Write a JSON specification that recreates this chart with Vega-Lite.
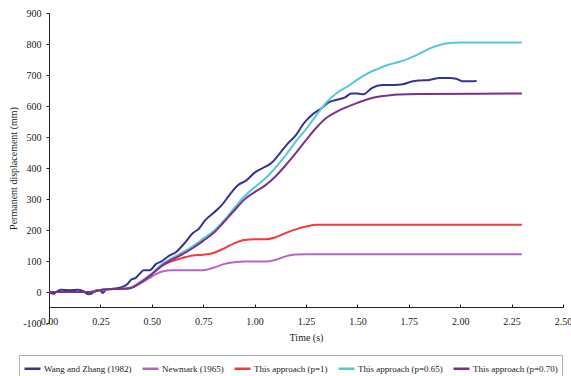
{
  "$schema": "https://vega.github.io/schema/vega-lite/v6.json",
  "width": 514,
  "height": 310,
  "autosize": {"type": "none"},
  "padding": {"left": 49, "top": 13, "right": 8, "bottom": 53},
  "background": "white",
  "config": {
    "view": {"stroke": null},
    "font": "Liberation Serif",
    "axis": {"labelFont": "Liberation Serif", "titleFont": "Liberation Serif", "labelColor": "#222", "titleColor": "#222", "titleFontWeight": "normal", "domainColor": "#222", "tickColor": "#222", "grid": false},
    "legend": {"labelFont": "Liberation Serif"}
  },
  "data": {"values": [
    {"s": "Wang and Zhang (1982)", "t": 0.00, "v": 0},
    {"s": "Wang and Zhang (1982)", "t": 0.02, "v": -6},
    {"s": "Wang and Zhang (1982)", "t": 0.04, "v": 2},
    {"s": "Wang and Zhang (1982)", "t": 0.06, "v": 7},
    {"s": "Wang and Zhang (1982)", "t": 0.10, "v": 6},
    {"s": "Wang and Zhang (1982)", "t": 0.14, "v": 7},
    {"s": "Wang and Zhang (1982)", "t": 0.17, "v": 2},
    {"s": "Wang and Zhang (1982)", "t": 0.19, "v": -7},
    {"s": "Wang and Zhang (1982)", "t": 0.21, "v": -4},
    {"s": "Wang and Zhang (1982)", "t": 0.23, "v": 6},
    {"s": "Wang and Zhang (1982)", "t": 0.25, "v": 6},
    {"s": "Wang and Zhang (1982)", "t": 0.26, "v": -3},
    {"s": "Wang and Zhang (1982)", "t": 0.28, "v": 9},
    {"s": "Wang and Zhang (1982)", "t": 0.32, "v": 11},
    {"s": "Wang and Zhang (1982)", "t": 0.35, "v": 15},
    {"s": "Wang and Zhang (1982)", "t": 0.38, "v": 25},
    {"s": "Wang and Zhang (1982)", "t": 0.40, "v": 40},
    {"s": "Wang and Zhang (1982)", "t": 0.42, "v": 45},
    {"s": "Wang and Zhang (1982)", "t": 0.44, "v": 58},
    {"s": "Wang and Zhang (1982)", "t": 0.46, "v": 70},
    {"s": "Wang and Zhang (1982)", "t": 0.49, "v": 70},
    {"s": "Wang and Zhang (1982)", "t": 0.52, "v": 90},
    {"s": "Wang and Zhang (1982)", "t": 0.55, "v": 100},
    {"s": "Wang and Zhang (1982)", "t": 0.58, "v": 115},
    {"s": "Wang and Zhang (1982)", "t": 0.62, "v": 130},
    {"s": "Wang and Zhang (1982)", "t": 0.66, "v": 158},
    {"s": "Wang and Zhang (1982)", "t": 0.70, "v": 190},
    {"s": "Wang and Zhang (1982)", "t": 0.73, "v": 205},
    {"s": "Wang and Zhang (1982)", "t": 0.76, "v": 232},
    {"s": "Wang and Zhang (1982)", "t": 0.80, "v": 255},
    {"s": "Wang and Zhang (1982)", "t": 0.84, "v": 280},
    {"s": "Wang and Zhang (1982)", "t": 0.88, "v": 315},
    {"s": "Wang and Zhang (1982)", "t": 0.92, "v": 345},
    {"s": "Wang and Zhang (1982)", "t": 0.96, "v": 360},
    {"s": "Wang and Zhang (1982)", "t": 1.00, "v": 385},
    {"s": "Wang and Zhang (1982)", "t": 1.04, "v": 400},
    {"s": "Wang and Zhang (1982)", "t": 1.08, "v": 415},
    {"s": "Wang and Zhang (1982)", "t": 1.12, "v": 445},
    {"s": "Wang and Zhang (1982)", "t": 1.16, "v": 478},
    {"s": "Wang and Zhang (1982)", "t": 1.20, "v": 505},
    {"s": "Wang and Zhang (1982)", "t": 1.24, "v": 545},
    {"s": "Wang and Zhang (1982)", "t": 1.28, "v": 572},
    {"s": "Wang and Zhang (1982)", "t": 1.32, "v": 590},
    {"s": "Wang and Zhang (1982)", "t": 1.36, "v": 612},
    {"s": "Wang and Zhang (1982)", "t": 1.40, "v": 620},
    {"s": "Wang and Zhang (1982)", "t": 1.44, "v": 628},
    {"s": "Wang and Zhang (1982)", "t": 1.47, "v": 640},
    {"s": "Wang and Zhang (1982)", "t": 1.50, "v": 640},
    {"s": "Wang and Zhang (1982)", "t": 1.53, "v": 638},
    {"s": "Wang and Zhang (1982)", "t": 1.57, "v": 658},
    {"s": "Wang and Zhang (1982)", "t": 1.62, "v": 668},
    {"s": "Wang and Zhang (1982)", "t": 1.68, "v": 668},
    {"s": "Wang and Zhang (1982)", "t": 1.72, "v": 670},
    {"s": "Wang and Zhang (1982)", "t": 1.76, "v": 678},
    {"s": "Wang and Zhang (1982)", "t": 1.80, "v": 682},
    {"s": "Wang and Zhang (1982)", "t": 1.85, "v": 684},
    {"s": "Wang and Zhang (1982)", "t": 1.90, "v": 690},
    {"s": "Wang and Zhang (1982)", "t": 1.95, "v": 690},
    {"s": "Wang and Zhang (1982)", "t": 1.98, "v": 688},
    {"s": "Wang and Zhang (1982)", "t": 2.01, "v": 680},
    {"s": "Wang and Zhang (1982)", "t": 2.05, "v": 680},
    {"s": "Wang and Zhang (1982)", "t": 2.08, "v": 681},

    {"s": "Newmark (1965)", "t": 0.00, "v": 0},
    {"s": "Newmark (1965)", "t": 0.20, "v": 0},
    {"s": "Newmark (1965)", "t": 0.25, "v": 6},
    {"s": "Newmark (1965)", "t": 0.28, "v": 9},
    {"s": "Newmark (1965)", "t": 0.35, "v": 10},
    {"s": "Newmark (1965)", "t": 0.38, "v": 11},
    {"s": "Newmark (1965)", "t": 0.40, "v": 15},
    {"s": "Newmark (1965)", "t": 0.45, "v": 30},
    {"s": "Newmark (1965)", "t": 0.50, "v": 50},
    {"s": "Newmark (1965)", "t": 0.55, "v": 66},
    {"s": "Newmark (1965)", "t": 0.60, "v": 70},
    {"s": "Newmark (1965)", "t": 0.75, "v": 70},
    {"s": "Newmark (1965)", "t": 0.80, "v": 78},
    {"s": "Newmark (1965)", "t": 0.85, "v": 90},
    {"s": "Newmark (1965)", "t": 0.90, "v": 96},
    {"s": "Newmark (1965)", "t": 0.95, "v": 98},
    {"s": "Newmark (1965)", "t": 1.05, "v": 98},
    {"s": "Newmark (1965)", "t": 1.10, "v": 103},
    {"s": "Newmark (1965)", "t": 1.15, "v": 115},
    {"s": "Newmark (1965)", "t": 1.20, "v": 121},
    {"s": "Newmark (1965)", "t": 1.25, "v": 122},
    {"s": "Newmark (1965)", "t": 2.30, "v": 122},

    {"s": "This approach (p=1)", "t": 0.00, "v": 0},
    {"s": "This approach (p=1)", "t": 0.20, "v": 0},
    {"s": "This approach (p=1)", "t": 0.25, "v": 6},
    {"s": "This approach (p=1)", "t": 0.28, "v": 9},
    {"s": "This approach (p=1)", "t": 0.35, "v": 10},
    {"s": "This approach (p=1)", "t": 0.38, "v": 11},
    {"s": "This approach (p=1)", "t": 0.40, "v": 15},
    {"s": "This approach (p=1)", "t": 0.45, "v": 35},
    {"s": "This approach (p=1)", "t": 0.50, "v": 58},
    {"s": "This approach (p=1)", "t": 0.55, "v": 85},
    {"s": "This approach (p=1)", "t": 0.60, "v": 100},
    {"s": "This approach (p=1)", "t": 0.65, "v": 110},
    {"s": "This approach (p=1)", "t": 0.70, "v": 118},
    {"s": "This approach (p=1)", "t": 0.75, "v": 120},
    {"s": "This approach (p=1)", "t": 0.80, "v": 126},
    {"s": "This approach (p=1)", "t": 0.85, "v": 140},
    {"s": "This approach (p=1)", "t": 0.90, "v": 157},
    {"s": "This approach (p=1)", "t": 0.95, "v": 168},
    {"s": "This approach (p=1)", "t": 1.00, "v": 170},
    {"s": "This approach (p=1)", "t": 1.05, "v": 170},
    {"s": "This approach (p=1)", "t": 1.10, "v": 176},
    {"s": "This approach (p=1)", "t": 1.15, "v": 190},
    {"s": "This approach (p=1)", "t": 1.20, "v": 202},
    {"s": "This approach (p=1)", "t": 1.25, "v": 211},
    {"s": "This approach (p=1)", "t": 1.30, "v": 217},
    {"s": "This approach (p=1)", "t": 2.30, "v": 217},

    {"s": "This approach (p=0.65)", "t": 0.00, "v": 0},
    {"s": "This approach (p=0.65)", "t": 0.20, "v": 0},
    {"s": "This approach (p=0.65)", "t": 0.25, "v": 6},
    {"s": "This approach (p=0.65)", "t": 0.28, "v": 9},
    {"s": "This approach (p=0.65)", "t": 0.35, "v": 10},
    {"s": "This approach (p=0.65)", "t": 0.38, "v": 11},
    {"s": "This approach (p=0.65)", "t": 0.40, "v": 15},
    {"s": "This approach (p=0.65)", "t": 0.45, "v": 35},
    {"s": "This approach (p=0.65)", "t": 0.50, "v": 60},
    {"s": "This approach (p=0.65)", "t": 0.55, "v": 90},
    {"s": "This approach (p=0.65)", "t": 0.60, "v": 110},
    {"s": "This approach (p=0.65)", "t": 0.65, "v": 128},
    {"s": "This approach (p=0.65)", "t": 0.70, "v": 148},
    {"s": "This approach (p=0.65)", "t": 0.75, "v": 172},
    {"s": "This approach (p=0.65)", "t": 0.80, "v": 196},
    {"s": "This approach (p=0.65)", "t": 0.85, "v": 230},
    {"s": "This approach (p=0.65)", "t": 0.90, "v": 270},
    {"s": "This approach (p=0.65)", "t": 0.95, "v": 308},
    {"s": "This approach (p=0.65)", "t": 1.00, "v": 338},
    {"s": "This approach (p=0.65)", "t": 1.05, "v": 365},
    {"s": "This approach (p=0.65)", "t": 1.10, "v": 400},
    {"s": "This approach (p=0.65)", "t": 1.15, "v": 440},
    {"s": "This approach (p=0.65)", "t": 1.20, "v": 485},
    {"s": "This approach (p=0.65)", "t": 1.25, "v": 525},
    {"s": "This approach (p=0.65)", "t": 1.30, "v": 570},
    {"s": "This approach (p=0.65)", "t": 1.35, "v": 612},
    {"s": "This approach (p=0.65)", "t": 1.40, "v": 642},
    {"s": "This approach (p=0.65)", "t": 1.45, "v": 662},
    {"s": "This approach (p=0.65)", "t": 1.50, "v": 685},
    {"s": "This approach (p=0.65)", "t": 1.55, "v": 705},
    {"s": "This approach (p=0.65)", "t": 1.60, "v": 720},
    {"s": "This approach (p=0.65)", "t": 1.65, "v": 733},
    {"s": "This approach (p=0.65)", "t": 1.70, "v": 742},
    {"s": "This approach (p=0.65)", "t": 1.75, "v": 753},
    {"s": "This approach (p=0.65)", "t": 1.80, "v": 768},
    {"s": "This approach (p=0.65)", "t": 1.85, "v": 785},
    {"s": "This approach (p=0.65)", "t": 1.90, "v": 797},
    {"s": "This approach (p=0.65)", "t": 1.95, "v": 803},
    {"s": "This approach (p=0.65)", "t": 2.00, "v": 805},
    {"s": "This approach (p=0.65)", "t": 2.30, "v": 805},

    {"s": "This approach (p=0.70)", "t": 0.00, "v": 0},
    {"s": "This approach (p=0.70)", "t": 0.20, "v": 0},
    {"s": "This approach (p=0.70)", "t": 0.25, "v": 6},
    {"s": "This approach (p=0.70)", "t": 0.28, "v": 9},
    {"s": "This approach (p=0.70)", "t": 0.35, "v": 10},
    {"s": "This approach (p=0.70)", "t": 0.38, "v": 11},
    {"s": "This approach (p=0.70)", "t": 0.40, "v": 13},
    {"s": "This approach (p=0.70)", "t": 0.45, "v": 32},
    {"s": "This approach (p=0.70)", "t": 0.50, "v": 57},
    {"s": "This approach (p=0.70)", "t": 0.55, "v": 85},
    {"s": "This approach (p=0.70)", "t": 0.60, "v": 105},
    {"s": "This approach (p=0.70)", "t": 0.65, "v": 122},
    {"s": "This approach (p=0.70)", "t": 0.70, "v": 142},
    {"s": "This approach (p=0.70)", "t": 0.75, "v": 165},
    {"s": "This approach (p=0.70)", "t": 0.80, "v": 190},
    {"s": "This approach (p=0.70)", "t": 0.85, "v": 225},
    {"s": "This approach (p=0.70)", "t": 0.90, "v": 262},
    {"s": "This approach (p=0.70)", "t": 0.95, "v": 298},
    {"s": "This approach (p=0.70)", "t": 1.00, "v": 322},
    {"s": "This approach (p=0.70)", "t": 1.05, "v": 343},
    {"s": "This approach (p=0.70)", "t": 1.10, "v": 372},
    {"s": "This approach (p=0.70)", "t": 1.15, "v": 408},
    {"s": "This approach (p=0.70)", "t": 1.20, "v": 448},
    {"s": "This approach (p=0.70)", "t": 1.25, "v": 490},
    {"s": "This approach (p=0.70)", "t": 1.30, "v": 530},
    {"s": "This approach (p=0.70)", "t": 1.35, "v": 562},
    {"s": "This approach (p=0.70)", "t": 1.40, "v": 582},
    {"s": "This approach (p=0.70)", "t": 1.45, "v": 597},
    {"s": "This approach (p=0.70)", "t": 1.50, "v": 610},
    {"s": "This approach (p=0.70)", "t": 1.55, "v": 622},
    {"s": "This approach (p=0.70)", "t": 1.60, "v": 630},
    {"s": "This approach (p=0.70)", "t": 1.65, "v": 634},
    {"s": "This approach (p=0.70)", "t": 1.70, "v": 637},
    {"s": "This approach (p=0.70)", "t": 1.80, "v": 639},
    {"s": "This approach (p=0.70)", "t": 2.30, "v": 640}
  ]},
  "mark": {"type": "line", "interpolate": "monotone", "strokeWidth": 2},
  "encoding": {
    "x": {
      "field": "t", "type": "quantitative", "title": "Time (s)",
      "scale": {"domain": [0, 2.5], "nice": false, "zero": false},
      "axis": {"values": [0, 0.25, 0.5, 0.75, 1, 1.25, 1.5, 1.75, 2, 2.25, 2.5], "format": ".2f", "offset": -16, "tickSize": -3, "labelPadding": 12, "labelFontSize": 10, "titleFontSize": 10, "titlePadding": 6, "labelFlush": false}
    },
    "y": {
      "field": "v", "type": "quantitative", "title": "Permanent displacement (mm)",
      "scale": {"domain": [-100, 900], "nice": false, "zero": false},
      "axis": {"values": [-100, 0, 100, 200, 300, 400, 500, 600, 700, 800, 900], "labelExpr": "datum.value < 0 ? '-' + abs(datum.value) : '' + datum.value", "tickSize": 3, "labelPadding": 5, "labelFontSize": 10, "titleFontSize": 10, "titlePadding": 4, "labelFlush": false}
    },
    "color": {
      "field": "s", "type": "nominal",
      "scale": {
        "domain": ["Wang and Zhang (1982)", "Newmark (1965)", "This approach (p=1)", "This approach (p=0.65)", "This approach (p=0.70)"],
        "range": ["#34358f", "#b466c4", "#f43a3a", "#55c8d6", "#7e2f8e"]
      },
      "legend": {
        "title": null, "orient": "none", "legendX": -30, "legendY": 342,
        "direction": "horizontal", "symbolType": "stroke", "symbolSize": 256, "symbolStrokeWidth": 2.5,
        "labelFontSize": 9, "labelColor": "#222", "labelOffset": 2, "columnPadding": 5,
        "strokeColor": "#b0b0b0", "padding": 4, "labelLimit": 200
      }
    }
  }
}
